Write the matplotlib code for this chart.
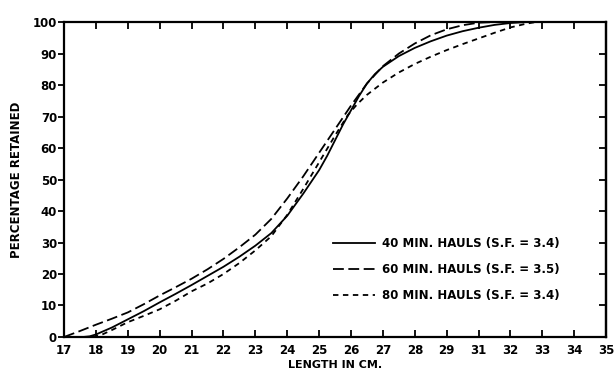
import numpy as np
import matplotlib.pyplot as plt

# lengths are in tick-position units (the printed axis skips the label 30)
tick_pos = list(range(17, 35))
tick_labels = ['17', '18', '19', '20', '21', '22', '23', '24', '25', '26',
               '27', '28', '29', '31', '32', '33', '34', '35']

len_40 = [17.6, 17.8, 18, 18.5, 19, 19.5, 20, 20.5, 21, 21.5, 22, 22.5, 23,
          23.5, 24, 24.5, 25, 25.25, 25.5, 25.75, 26, 26.25, 26.5, 26.75, 27,
          27.5, 28, 28.5, 29, 29.5, 30, 30.5, 31, 31.5]
pct_40 = [0, 0.2, 0.8, 3, 5.6, 8.2, 11, 13.7, 16.5, 19.4, 22.3, 25.5, 29,
          33, 38.5, 45.5, 53, 57.5, 62.5, 67.5, 72, 76.5, 80.5, 83.5, 85.8,
          89.2, 91.8, 93.9, 95.7, 97.1, 98.2, 99.1, 99.7, 100]

len_60 = [17, 17.5, 18, 18.5, 19, 19.5, 20, 20.5, 21, 21.5, 22, 22.5, 23,
          23.5, 24, 24.5, 25, 25.5, 26, 26.5, 27, 27.5, 28, 28.5, 29, 29.5,
          30, 30.5]
pct_60 = [0, 1.9, 3.9, 5.8, 7.8, 10.4, 13.2, 15.8, 18.5, 21.5, 24.8, 28.5,
          32.5, 37.5, 44, 51, 58.5, 66, 73.5, 80.5, 86, 90, 93.2, 95.8, 97.7,
          99, 99.8, 100]

len_80 = [17.9, 18.2, 18.5, 19, 19.5, 20, 20.5, 21, 21.5, 22, 22.5, 23, 23.5,
          24, 24.5, 25, 25.5, 25.9, 26.2, 26.5, 27, 27.5, 28, 28.5, 29, 29.5,
          30, 30.5, 31, 31.5, 31.8]
pct_80 = [0, 0.8, 2.2, 4.7, 6.7, 8.8, 11.5, 14.5, 17, 20, 23.5, 27.5, 32,
          38.8, 47, 55.5, 64, 70.5, 74, 76.9, 80.8, 84, 86.7, 89, 91.1,
          93, 94.8, 96.6, 98.3, 99.5, 100]

labels = ['40 MIN. HAULS (S.F. = 3.4)',
          '60 MIN. HAULS (S.F. = 3.5)',
          '80 MIN. HAULS (S.F. = 3.4)']

fig = plt.figure(figsize=(6.16, 3.74), dpi=100)
ax = fig.add_axes([0.104, 0.099, 0.880, 0.842])

lw = 1.3
ax.plot(len_40, pct_40, color='black', linewidth=lw, label=labels[0])
ax.plot(len_60, pct_60, color='black', linewidth=lw, dashes=(6, 2.5), label=labels[1])
ax.plot(len_80, pct_80, color='black', linewidth=lw, dashes=(3, 2.5), label=labels[2])

ax.set_xlim(17, 34)
ax.set_ylim(0, 100)

ax.set_xticks(tick_pos)
ax.set_xticklabels(tick_labels, fontsize=8.5, fontweight='bold')
ax.set_yticks(np.arange(0, 101, 10))
ax.set_yticklabels([str(v) for v in range(0, 101, 10)], fontsize=8.5, fontweight='bold')

ax.tick_params(axis='x', direction='in', top=True, length=5, width=1.3, pad=5)
ax.tick_params(axis='y', direction='out', length=4, width=1.3, pad=1)
# inward ticks on the right side
ax2 = ax.secondary_yaxis('right')
ax2.set_yticks(np.arange(10, 100, 10))
ax2.tick_params(direction='in', length=5, width=1.3, labelright=False)
ax2.spines['right'].set_linewidth(1.6)

for s in ax.spines.values():
    s.set_linewidth(1.6)

ax.set_xlabel('LENGTH IN CM.', fontsize=8, fontweight='bold', labelpad=2)
ax.set_ylabel('PERCENTAGE RETAINED', fontsize=8.5, fontweight='bold', labelpad=7)

ax.legend(loc='center left', bbox_to_anchor=(0.485, 0.215), frameon=False,
          prop={'size': 8.5, 'weight': 'bold'}, handlelength=3.6,
          labelspacing=1.1, handletextpad=0.6, borderpad=0)

plt.savefig('out.png', dpi=100)
plt.close()
